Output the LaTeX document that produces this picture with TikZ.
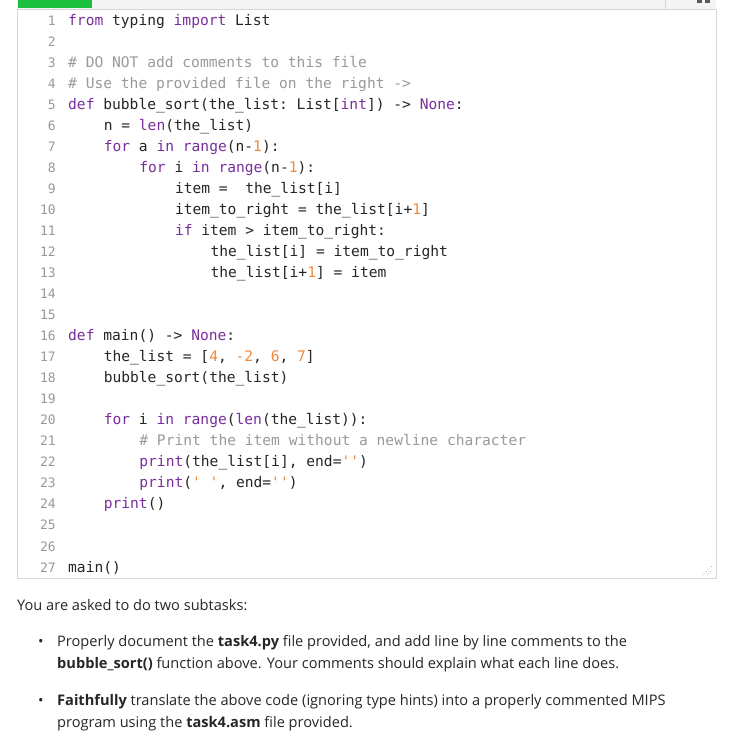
\documentclass[tikz,border=0pt]{standalone}
\usepackage{fontspec}
\setmainfont{Open Sans}
\setmonofont{DejaVu Sans Mono}
\definecolor{kw}{HTML}{7A2E9E}
\definecolor{nm}{HTML}{F08A3C}
\definecolor{cm}{HTML}{9A9A9A}
\definecolor{ln}{HTML}{999999}
\definecolor{bord}{HTML}{D6D6D6}
\definecolor{tool}{HTML}{F4F4F4}
\definecolor{grn}{HTML}{1CBF3E}
\newcommand{\K}[1]{\textcolor{kw}{#1}}
\newcommand{\N}[1]{\textcolor{nm}{#1}}
\newcommand{\C}[1]{\textcolor{cm}{#1}}
\begin{document}
\begin{tikzpicture}[x=1pt,y=-1pt,
  code/.style={anchor=base west,inner sep=0pt,font=\ttfamily\fontsize{14.6}{16}\selectfont,text=black!85},
  lnum/.style={anchor=base east,inner sep=0pt,font=\ttfamily\fontsize{13}{16}\selectfont,text=ln},
  body/.style={anchor=base west,inner sep=0pt,font=\fontsize{14.6}{18}\selectfont,text=black!85}]
\useasboundingbox (0,0) rectangle (756,755);
\fill[tool] (17,0) rectangle (716,9);
\fill[grn] (18,0) rectangle (92,8);
\fill[black!65] (697,0) rectangle (702,3);
\fill[black!65] (705,0) rectangle (710,3);
\draw[bord] (665,0) -- (665,9);
\draw[bord,fill=white] (17,9) rectangle (716,578);
\draw[black!70,dotted] (703,575) -- (712,566);
\draw[black!70,dotted] (707,575) -- (712,570);
\foreach \i in {1,...,27} \node[lnum] (l\i) at (56,{25+(\i-1)*21.04}) {\i};
\def\Y#1{{25+(#1-1)*21.04}}
\node[code] (c1) at (68,\Y1) {\K{from} typing \K{import} List};
\node[code] (c3) at (68,\Y3) {\C{\# DO NOT add comments to this file}};
\node[code] (c4) at (68,\Y4) {\C{\# Use the provided file on the right ->}};
\node[code] (c5) at (68,\Y5) {\K{def} bubble\_sort(the\_list: List[\K{int}]) -> \K{None}:};
\node[code] (c6) at (103.6,\Y6) {n = \K{len}(the\_list)};
\node[code] (c7) at (103.6,\Y7) {\K{for} a \K{in} \K{range}(n-\N{1}):};
\node[code] (c8) at (139.2,\Y8) {\K{for} i \K{in} \K{range}(n-\N{1}):};
\node[code] (c9) at (174.8,\Y9) {item =\ \ the\_list[i]};
\node[code] (c10) at (174.8,\Y{10}) {item\_to\_right = the\_list[i+\N{1}]};
\node[code] (c11) at (174.8,\Y{11}) {\K{if} item > item\_to\_right:};
\node[code] (c12) at (210.4,\Y{12}) {the\_list[i] = item\_to\_right};
\node[code] (c13) at (210.4,\Y{13}) {the\_list[i+\N{1}] = item};
\node[code] (c16) at (68,\Y{16}) {\K{def} main() -> \K{None}:};
\node[code] (c17) at (103.6,\Y{17}) {the\_list = [\N{4}, \N{-2}, \N{6}, \N{7}]};
\node[code] (c18) at (103.6,\Y{18}) {bubble\_sort(the\_list)};
\node[code] (c20) at (103.6,\Y{20}) {\K{for} i \K{in} \K{range}(\K{len}(the\_list)):};
\node[code] (c21) at (139.2,\Y{21}) {\C{\# Print the item without a newline character}};
\node[code] (c22) at (139.2,\Y{22}) {\K{print}(the\_list[i], end=\N{'{}'})};
\node[code] (c23) at (139.2,\Y{23}) {\K{print}(\N{'\ '}, end=\N{'{}'})};
\node[code] (c24) at (103.6,\Y{24}) {\K{print}()};
\node[code] (c27) at (68,\Y{27}) {main()};
\node[body] (t0) at (17,610) {You are asked to do two subtasks:};
\node[body] (b1) at (38,646) {•};
\node[body] (t1) at (57,646) {Properly document the \textbf{task4.py} file provided, and add line by line comments to the};
\node[body] (t2) at (57,668) {\textbf{bubble\_sort()} function above. Your comments should explain what each line does.};
\node[body] (b2) at (38,705) {•};
\node[body] (t3) at (57,705) {\textbf{Faithfully} translate the above code (ignoring type hints) into a properly commented MIPS};
\node[body] (t4) at (57,727) {program using the \textbf{task4.asm} file provided.};
\end{tikzpicture}
\end{document}
